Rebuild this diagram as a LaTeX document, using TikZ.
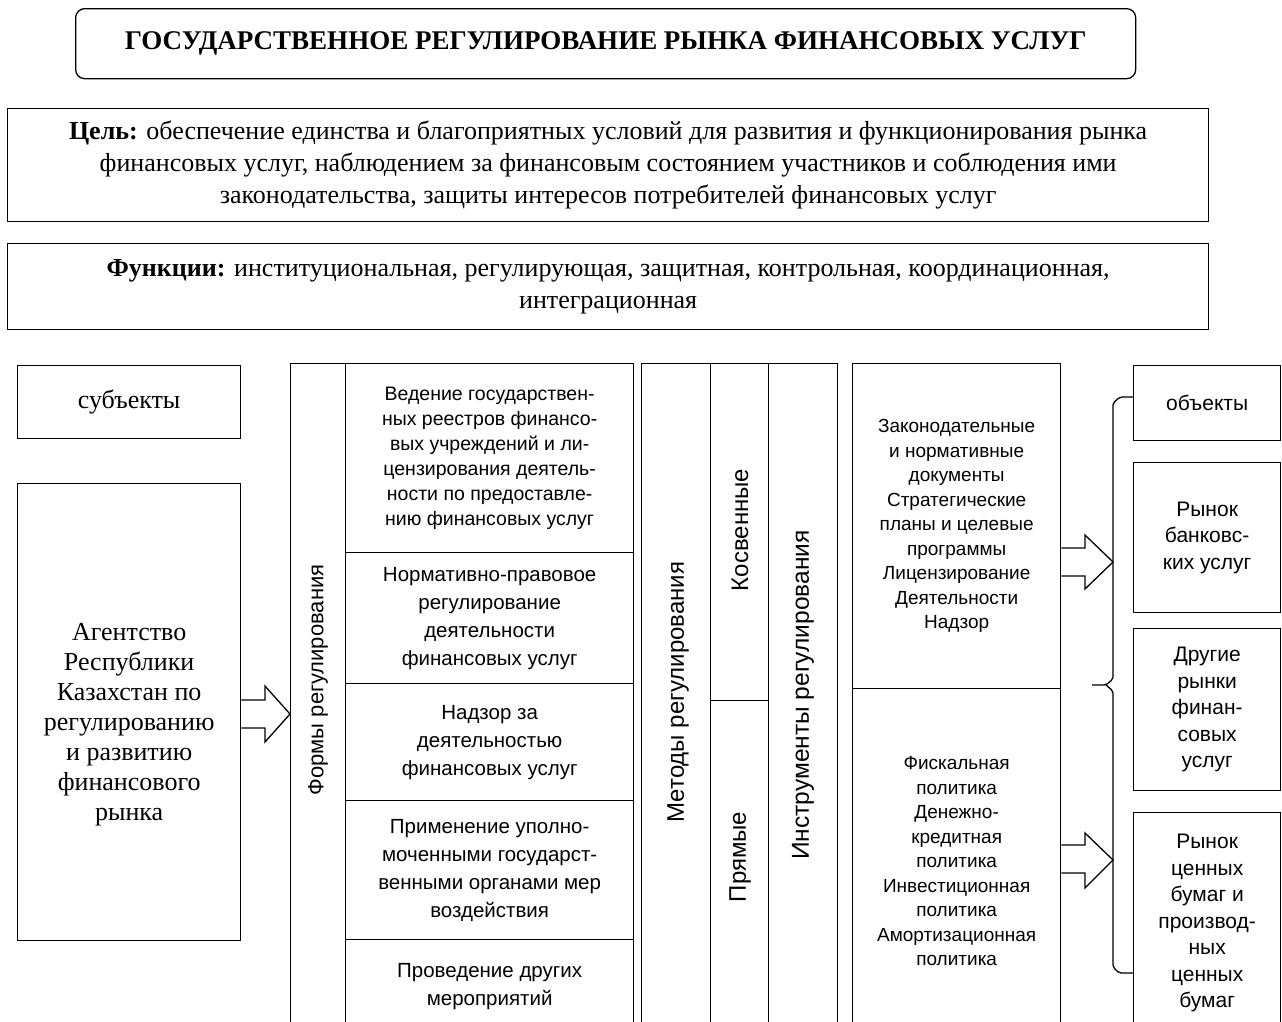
\documentclass[tikz,border=0pt]{standalone}
\usepackage{fontspec}
\setmainfont{Liberation Serif}
\newfontfamily\arialf{Liberation Sans}
\usetikzlibrary{calc}
\begin{document}
\begin{tikzpicture}[x=1pt,y=-1pt,line width=1.3pt,
  box/.style={draw,anchor=north west,inner sep=0pt,align=center},
  serif/.style={font=\fontsize{26}{30}\selectfont},
  item/.style={font=\arialf\fontsize{20.5}{28}\selectfont},
  instr/.style={font=\arialf\fontsize{19}{24.5}\selectfont},
  obj/.style={font=\arialf\fontsize{21}{26.5}\selectfont},
  vlabel/.style={rotate=90,inner sep=0pt,font=\arialf\fontsize{24}{28}\selectfont},
  barrow/.style={draw,fill=white,line join=miter},
  brace/.style={draw,rounded corners=2pt}]
\useasboundingbox (0,0) rectangle (1282,1021);
% top boxes
\node[box,rounded corners=9pt,minimum width=1060pt,minimum height=70pt] (title) at (75,8)
  {\fontsize{27}{32}\selectfont\bfseries ГОСУДАРСТВЕННОЕ РЕГУЛИРОВАНИЕ РЫНКА ФИНАНСОВЫХ УСЛУГ};
\node[box,minimum width=1201pt,minimum height=113pt,font=\fontsize{26}{32}\selectfont] (goal) at (7,108)
  {\textbf{Цель:} обеспечение единства и благоприятных условий для развития и функционирования рынка\\
   финансовых услуг, наблюдением за финансовым состоянием участников и соблюдения ими\\
   законодательства, защиты интересов потребителей финансовых услуг};
\node[box,minimum width=1201pt,minimum height=86pt,font=\fontsize{26}{32}\selectfont] (func) at (7,243)
  {\textbf{Функции:} институциональная, регулирующая, защитная, контрольная, координационная,\\
   интеграционная};
% left column
\node[box,serif,minimum width=223pt,minimum height=73pt] (subj) at (17,365) {субъекты};
\node[box,serif,minimum width=223pt,minimum height=457pt] (agency) at (17,483)
  {\mbox{}\\[12pt] Агентство\\ Республики\\ Казахстан по\\ регулированию\\ и развитию\\ финансового\\ рынка};
% forms
\node[box,minimum width=55pt,minimum height=670pt] (forms) at (290,363) {};
\node[vlabel,font=\arialf\fontsize{22}{26}\selectfont] (formsl) at (318,680) {Формы регулирования};
\node[box,minimum width=288pt,minimum height=189pt,font=\arialf\fontsize{19.5}{25}\selectfont] (it1) at (345,363)
  {Ведение государствен-\\ных реестров финансо-\\вых учреждений и ли-\\цензирования деятель-\\ности по предоставле-\\нию финансовых услуг};
\node[box,item,minimum width=288pt,minimum height=131pt] (it2) at (345,552)
  {Нормативно-правовое\\ регулирование\\ деятельности\\ финансовых услуг};
\node[box,item,minimum width=288pt,minimum height=117pt] (it3) at (345,683)
  {Надзор за\\ деятельностью\\ финансовых услуг};
\node[box,item,minimum width=288pt,minimum height=139pt] (it4) at (345,800)
  {Применение уполно-\\моченными государст-\\венными органами мер\\ воздействия};
\node[box,item,minimum width=288pt,minimum height=94pt] (it5) at (345,939)
  {Проведение других\\ мероприятий};
% methods
\node[box,minimum width=69pt,minimum height=670pt] (meth) at (641,363) {};
\node[vlabel] (methl) at (678,692) {Методы регулирования};
\node[box,minimum width=58pt,minimum height=337pt] (kosv) at (710,363) {};
\node[vlabel] (kosvl) at (740,530) {Косвенные};
\node[box,minimum width=58pt,minimum height=333pt] (pryam) at (710,700) {};
\node[vlabel] (pryaml) at (740,857) {Прямые};
\node[box,minimum width=69pt,minimum height=670pt] (instr) at (768,363) {};
\node[vlabel,font=\arialf\fontsize{24.5}{28}\selectfont] (instrl) at (803,695) {Инструменты регулирования};
% instruments text
\node[box,instr,minimum width=208pt,minimum height=325pt] (itop) at (852,363)
  {Законодательные\\ и нормативные\\ документы\\ Стратегические\\ планы и целевые\\ программы\\ Лицензирование\\ Деятельности\\ Надзор};
\node[box,instr,minimum width=208pt,minimum height=345pt] (ibot) at (852,688)
  {Фискальная\\ политика\\ Денежно-\\ кредитная\\ политика\\ Инвестиционная\\ политика\\ Амортизационная\\ политика};
% objects
\node[box,obj,minimum width=147pt,minimum height=75pt] (objh) at (1133,365) {объекты};
\node[box,obj,minimum width=147pt,minimum height=150pt] (bank) at (1133,462) {Рынок\\ банковс-\\ких услуг};
\node[box,obj,minimum width=147pt,minimum height=162pt] (other) at (1133,628) {Другие\\ рынки\\ финан-\\совых\\ услуг};
\node[box,obj,minimum width=147pt,minimum height=221pt] (sec) at (1133,812)
  {Рынок\\ ценных\\ бумаг и\\ производ-\\ных\\ ценных\\ бумаг};
% coordinates
\coordinate (la1) at (265,700); \coordinate (la2) at (265,728);
\coordinate (ra1) at (1085,548); \coordinate (ra2) at (1085,576);
\coordinate (rb1) at (1085,845); \coordinate (rb2) at (1085,873);
\coordinate (btop) at (1113,562);
\coordinate (bbot) at (1113,860);
\coordinate (bnub) at (1092,685);
\coordinate (bend) at (1133,973);
% block arrows
\draw[barrow] (agency.east |- la1) -- (la1) -- ++(0,-14) -- (forms.west |- 0,714) -- (265,742) -- (la2) -- (agency.east |- la2);
\draw[barrow] (itop.east |- ra1) -- (ra1) -- ++(0,-13) -- (btop) -- (1085,589) -- (ra2) -- (itop.east |- ra2);
\draw[barrow] (ibot.east |- rb1) -- (rb1) -- ++(0,-12) -- (bbot) -- (1085,888) -- (rb2) -- (ibot.east |- rb2);
% brace
\draw[brace] (objh.west |- 0,397) -- (1120,397) -- (1113,403) -- (1113,679) -- (1106,685) -- (bnub);
\draw[brace] (1106,685) -- (1113,691) -- (1113,967) -- (1119,973) -- (bend);
\end{tikzpicture}
\end{document}
